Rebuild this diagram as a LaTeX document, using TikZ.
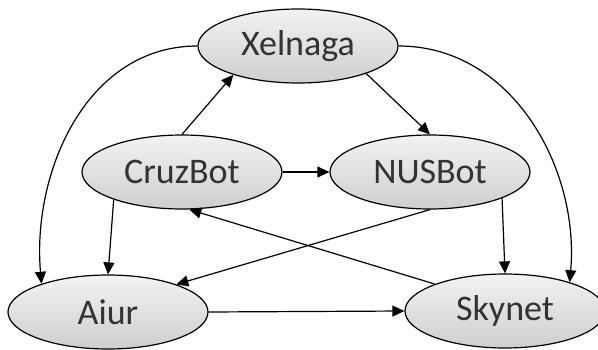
\documentclass[tikz,border=0pt]{standalone}
\usepackage{fontspec}
\setmainfont{Carlito}
\usetikzlibrary{arrows.meta}
\usetikzlibrary{shapes.geometric}

\begin{document}
\begin{tikzpicture}[x=1pt, y=1pt]
    \tikzset{
        every node/.style={font=\fontsize{36}{40}\selectfont, text=black!80},
        bot/.style={ellipse, draw, line width=1.2pt, inner sep=0pt,
            minimum width=200pt, minimum height=74pt,
            top color=gray!10, bottom color=gray!38},
        link/.style={line width=1.2pt, -{Triangle[length=12pt, width=11pt]}}
    }
    \useasboundingbox (0,0) rectangle (598,349);

    \node [bot] (xel) at (298,303) {Xelnaga};
    \node [bot] (cruz) at (182,177) {CruzBot};
    \node [bot] (nus) at (430,177) {NUSBot};
    \node [bot] (aiur) at (108,37) {Aiur};
    \node [bot] (sky) at (505,38) {Skynet};

    \draw [link] (cruz.north) -- (xel.204);
    \draw [link] (xel.338) -- (nus.north);
    \draw [link] (cruz.east) -- (nus.west);
    \draw [link] (cruz.202) -- (aiur.north);
    \draw [link] (nus.south) -- (aiur.22);
    \draw [link] (sky.159) -- (cruz.281);
    \draw [link] (nus.340) -- (sky.north);
    \draw [link] (aiur.east) -- (sky.west);
    \draw [link] (xel.west) to [out=180, in=95] (aiur.157);
    \draw [link] (xel.east) to [out=0, in=85] (sky.24);

\end{tikzpicture}
\end{document}
